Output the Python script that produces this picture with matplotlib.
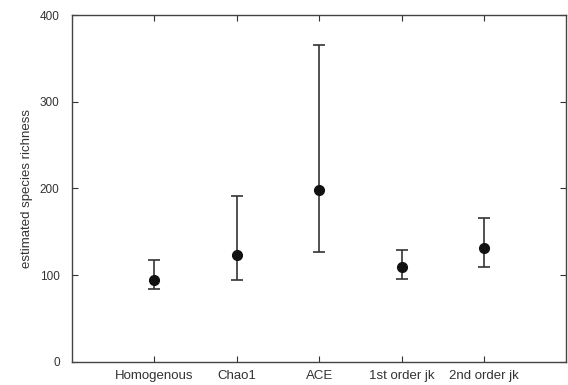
import numpy as np
import matplotlib.pyplot as plt

# estimator names and estimated richness with lower/upper bounds
estimators = ['Homogenous', 'Chao1', 'ACE', '1st order jk', '2nd order jk']
richness = [95, 123, 198, 109, 131]
lower = [84, 95, 127, 96, 109]
upper = [117, 191, 366, 129, 166]


def main():
    plt.rcParams['font.family'] = ['Liberation Sans', 'DejaVu Sans']
    fig = plt.figure(figsize=(5.68, 3.85), dpi=100)
    ax = fig.add_axes([0.127, 0.06, 0.87, 0.901])

    x = np.arange(1, len(estimators) + 1)
    y = np.array(richness)
    yerr = np.array([y - np.array(lower), np.array(upper) - y])
    ax.errorbar(x, y, yerr=yerr, fmt='o', color='#111111', ecolor='#333333',
                markersize=7, capsize=4.5, elinewidth=1.2, capthick=1.2)

    ax.set_xlim(0, 6)
    ax.set_ylim(0, 400)
    ax.set_xticks(x)
    ax.set_xticklabels(estimators)
    ax.set_yticks([0, 100, 200, 300, 400])
    ax.set_ylabel('estimated species richness', fontsize=9.5, color='#333333',
                  labelpad=5)
    ax.tick_params(direction='in', top=True, right=True,
                   colors='#333333', length=4)
    ax.tick_params(axis='x', labelsize=9.5, pad=6)
    ax.tick_params(axis='y', labelsize=8.5, pad=9)
    for s in ax.spines.values():
        s.set_color('#444444')
        s.set_linewidth(1.0)

    fig.savefig('out.png', dpi=100)


if __name__ == '__main__':
    main()
